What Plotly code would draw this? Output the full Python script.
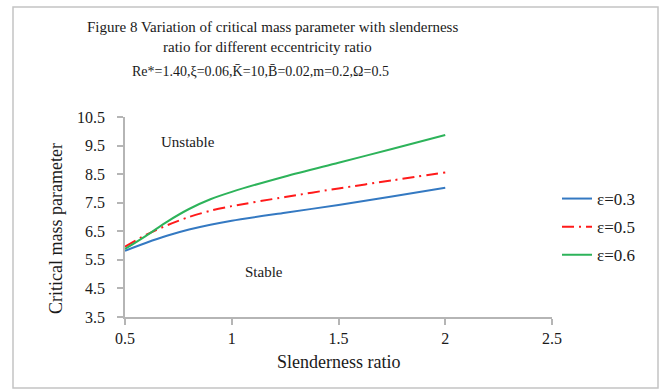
import plotly.graph_objects as go

slenderness = [0.5, 0.6, 0.7, 0.8, 0.9, 1.0, 1.25, 1.5, 1.75, 2.0]
eps_03 = [5.82, 6.10, 6.35, 6.56, 6.73, 6.87, 7.15, 7.42, 7.72, 8.02]
eps_05 = [5.96, 6.38, 6.72, 7.00, 7.22, 7.38, 7.70, 8.00, 8.28, 8.56]
eps_06 = [5.88, 6.35, 6.85, 7.28, 7.62, 7.88, 8.42, 8.90, 9.38, 9.87]
series_names = ["ε=0.3", "ε=0.5", "ε=0.6"]
x_ticks = [0.5, 1, 1.5, 2, 2.5]
y_ticks = [3.5, 4.5, 5.5, 6.5, 7.5, 8.5, 9.5, 10.5]

FONT = "Liberation Serif, Times New Roman, serif"
TXT = "#1a1a1a"
W, H = 662, 389
L, R, T, B = 125, 110, 117, 72
pw, ph = W - L - R, H - T - B

def px_x(p):
    return (p - L) / pw

def px_y(p):
    return (H - B - p) / ph

fig = go.Figure()
styles = [
    dict(color="#3479c2", width=2, dash="solid"),
    dict(color="#ff1a1a", width=2, dash="12px,5px,2px,5px"),
    dict(color="#2db35a", width=2, dash="solid"),
]
for name, ys, st in zip(series_names, [eps_03, eps_05, eps_06], styles):
    fig.add_trace(go.Scatter(x=slenderness, y=ys, mode="lines", name=name,
                             line=dict(shape="spline", smoothing=0.8, **st),
                             legendgroup=name))

axis_common = dict(showgrid=False, zeroline=False, showline=True,
                   linecolor="#b5b5b5", linewidth=1.5, ticks="outside",
                   ticklen=6, tickcolor="#b5b5b5", tickwidth=1.5,
                   tickfont=dict(family=FONT, size=16, color=TXT))

fig.update_xaxes(range=[0.5, 2.5], tickvals=x_ticks,
                 ticktext=[f"{v:g}" for v in x_ticks], **axis_common)
fig.update_yaxes(range=[3.5, 10.5], tickvals=y_ticks,
                 ticktext=[f"{v:g}" for v in y_ticks],
                 ticklabelstandoff=9, **axis_common)

annotations = [
    dict(text="Figure 8 Variation of critical mass parameter with slenderness",
         x=px_x(272), y=px_y(27), size=15, angle=0),
    dict(text="ratio for different eccentricity ratio",
         x=px_x(267), y=px_y(47), size=15, angle=0),
    dict(text="Re*=1.40,ξ=0.06,K̄=10,B̄=0.02,m=0.2,Ω=0.5",
         x=px_x(260), y=px_y(72), size=14, angle=0),
    dict(text="Slenderness ratio", x=px_x(338), y=px_y(362), size=18, angle=0),
    dict(text="Critical mass parameter", x=px_x(56), y=px_y(229), size=18, angle=-90),
]
for a in annotations:
    fig.add_annotation(text=a["text"], x=a["x"], y=a["y"], xref="paper", yref="paper",
                       showarrow=False, xanchor="center", yanchor="middle",
                       textangle=a["angle"],
                       font=dict(family=FONT, size=a["size"], color=TXT))

fig.add_annotation(text="Unstable", x=0.794, y=9.63, xref="x", yref="y", showarrow=False,
                   font=dict(family=FONT, size=15, color=TXT))
fig.add_annotation(text="Stable", x=1.15, y=5.08, xref="x", yref="y", showarrow=False,
                   font=dict(family=FONT, size=15, color=TXT))

fig.add_shape(type="rect", xref="paper", yref="paper",
              x0=px_x(13), x1=px_x(658), y0=px_y(388), y1=px_y(7),
              line=dict(color="#c4c4c4", width=1.5))

fig.update_layout(
    width=W, height=H,
    margin=dict(l=L, r=R, t=T, b=B),
    paper_bgcolor="white", plot_bgcolor="white",
    legend=dict(x=px_x(557), y=px_y(181), xanchor="left", yanchor="top",
                font=dict(family=FONT, size=17, color=TXT),
                tracegroupgap=3, bgcolor="rgba(0,0,0,0)"),
    showlegend=True,
)

fig.write_html("out.html")
